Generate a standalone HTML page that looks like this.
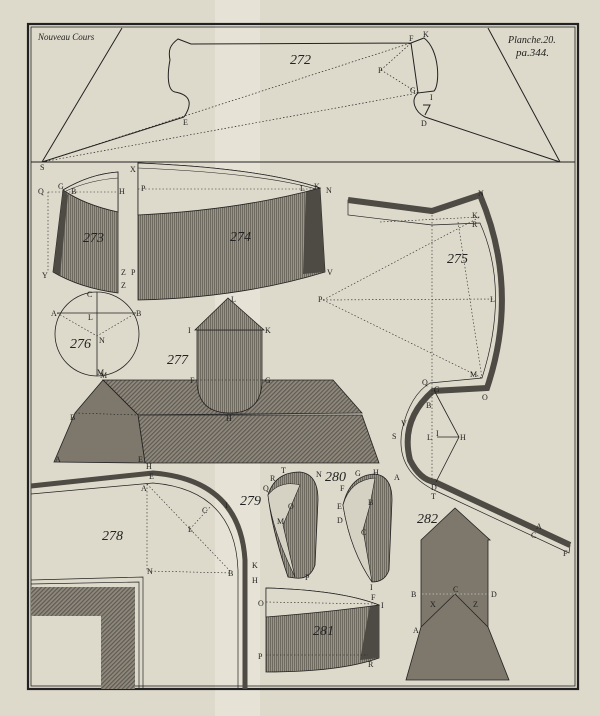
<!DOCTYPE html>
<html><head><meta charset="utf-8"><style>
html,body{margin:0;padding:0;background:#dedacb;}
svg{display:block;}
text{font-family:"Liberation Serif",serif;fill:#222;}
.l{font-size:8px;}
.n{font-size:14px;font-style:italic;}
</style></head><body>
<svg width="600" height="716" viewBox="0 0 600 716" xmlns="http://www.w3.org/2000/svg">
<defs>
<pattern id="vh" width="2" height="4" patternUnits="userSpaceOnUse"><rect width="2" height="4" fill="#9a9488"/><rect width="1" height="4" fill="#6f6a60"/></pattern>
<pattern id="dh" width="3" height="3" patternUnits="userSpaceOnUse" patternTransform="rotate(45)"><rect width="3" height="3" fill="#8f897d"/><rect width="1.2" height="3" fill="#5f5a52"/></pattern>
</defs>
<rect width="600" height="716" fill="#dedacb"/>
<rect x="215" y="0" width="45" height="716" fill="#e6e3d6"/>
<rect x="28" y="24" width="550" height="665" fill="none" stroke="#222" stroke-width="2.2"/>
<rect x="31" y="27" width="544" height="659" fill="none" stroke="#222" stroke-width="0.8"/>

<!-- 272 -->
<g fill="none" stroke="#222" stroke-width="1">
<path d="M42,162 L122,28 M488,28 L560,162 M31,162 L575,162"/>
<path d="M42,162 L184,117 M425,117 L560,162"/>
<path d="M184,117 C192,105 192,95 175,92 C166,90 168,70 170,60 C168,50 170,45 178,39 L191,44 L411,43 L424,38 C440,50 440,85 434,91 L418,93 L411,43"/>
<path d="M418,93 C410,100 415,112 425,117 M423,105 L430,105 L425,115"/>
<path d="M42,162 L411,43 M42,162 L418,93 M381,70 L411,43 M381,70 L418,93" stroke-dasharray="1.5,2" stroke-width="0.7"/>
</g>
<text class="n" x="290" y="64">272</text>
<text x="38" y="40" style="font-size:9px;font-style:italic">Nouveau Cours</text>
<text x="508" y="43" style="font-size:10px;font-style:italic">Planche.20.</text>
<text x="516" y="56" style="font-size:11px;font-style:italic">pa.344.</text>
<text class="l" x="40" y="170">S</text><text class="l" x="183" y="125">E</text><text class="l" x="409" y="41">F</text><text class="l" x="423" y="37">K</text><text class="l" x="378" y="73">P</text><text class="l" x="410" y="93">G</text><text class="l" x="430" y="100">I</text><text class="l" x="421" y="126">D</text>

<!-- 273 -->
<path d="M63,190 Q90,174 118,172 L118,293 Q80,288 53,272 Z" fill="url(#vh)" stroke="#222" stroke-width="0.8"/>
<path d="M63,190 L53,272 L60,275 L68,195 Z" fill="#4e4a44"/>
<path d="M63,190 Q90,174 118,172 L118,212 Q85,205 63,190 Z" fill="#dedacb" stroke="#222" stroke-width="0.8"/>
<path d="M66,191 Q90,180 118,178" fill="none" stroke="#222" stroke-width="0.6"/>
<path d="M48,192 L118,192 M48,192 L48,272" stroke="#222" stroke-dasharray="1.5,2" stroke-width="0.6" fill="none"/>
<text class="n" x="83" y="242">273</text>
<text class="l" x="38" y="194">Q</text><text class="l" x="58" y="189">G</text><text class="l" x="71" y="194">B</text><text class="l" x="119" y="194">H</text><text class="l" x="42" y="278">Y</text><text class="l" x="121" y="275">Z</text><text class="l" x="121" y="288">Z</text>

<!-- 274 -->
<path d="M138,163 Q260,168 320,188 L325,272 Q240,298 138,300 Z" fill="url(#vh)" stroke="#222" stroke-width="0.8"/>
<path d="M306,190 L320,188 L325,272 L303,274 Z" fill="#4e4a44"/>
<path d="M138,163 Q260,168 320,188 Q240,210 138,215 Z" fill="#dedacb" stroke="#222" stroke-width="0.8"/>
<path d="M138,168 Q260,173 316,189" fill="none" stroke="#222" stroke-width="0.6"/>
<path d="M138,189 L316,189" stroke="#222" stroke-dasharray="1.5,2" stroke-width="0.6"/>
<text class="n" x="230" y="241">274</text>
<text class="l" x="130" y="172">X</text><text class="l" x="141" y="191">P</text><text class="l" x="300" y="191">L</text><text class="l" x="314" y="189">K</text><text class="l" x="326" y="193">N</text><text class="l" x="131" y="275">P</text><text class="l" x="327" y="275">V</text>

<!-- 275 band -->
<path d="M348,200 L432,211 L480,195 Q520,290 487,388 L433,391 Q400,420 410,460 Q420,480 435,482 L570,545 L569,553 L434,490 Q395,470 402,430 Q410,395 430,383 L482,378 Q510,290 480,223 L432,225 L348,215 Z" fill="#dedacb" stroke="#222" stroke-width="0.7"/>
<path d="M348,200 L432,211 L480,195 Q520,290 487,388 L433,391 Q400,420 410,460 Q420,480 435,482 L570,545" fill="none" stroke="#4e4a44" stroke-width="6"/>
<path d="M432,215 L432,480 M458,222 L482,378 M323,300 L494,299 M323,300 L480,217 M323,300 L482,378 M380,222 L480,217" stroke="#222" stroke-dasharray="1.5,2" stroke-width="0.6" fill="none"/>
<path d="M434,390 L459,437 L436,482 M437,437 L459,437" fill="none" stroke="#222" stroke-width="0.8"/>
<text class="n" x="447" y="263">275</text>
<text class="l" x="478" y="196">N</text><text class="l" x="472" y="218">K</text><text class="l" x="472" y="227">R</text><text class="l" x="318" y="302">P</text><text class="l" x="490" y="302">L</text><text class="l" x="470" y="377">M</text><text class="l" x="482" y="400">O</text><text class="l" x="422" y="385">Q</text><text class="l" x="434" y="392">G</text><text class="l" x="426" y="408">B</text><text class="l" x="401" y="426">V</text><text class="l" x="392" y="439">S</text><text class="l" x="427" y="440">L</text><text class="l" x="436" y="436">I</text><text class="l" x="460" y="440">H</text><text class="l" x="431" y="490">D</text><text class="l" x="431" y="499">T</text><text class="l" x="536" y="529">A</text><text class="l" x="531" y="538">C</text><text class="l" x="563" y="556">F</text>

<!-- 276 -->
<circle cx="97" cy="334" r="42" fill="none" stroke="#222" stroke-width="0.8"/>
<path d="M97,292 L97,376 M57,313 L136,313" stroke="#222" stroke-width="0.8"/>
<path d="M57,313 L97,336 L136,313" stroke="#222" stroke-dasharray="1.5,2" stroke-width="0.6" fill="none"/>
<text class="n" x="70" y="348">276</text>
<text class="l" x="87" y="297">C</text><text class="l" x="51" y="316">A</text><text class="l" x="88" y="320">L</text><text class="l" x="136" y="316">B</text><text class="l" x="99" y="343">N</text><text class="l" x="97" y="375">M</text>

<!-- 277 -->
<path d="M103,380 L333,380 L362,413 L138,415 Z" fill="url(#dh)" stroke="#222" stroke-width="0.8"/>
<path d="M138,415 L362,415 L379,463 L145,463 Z" fill="url(#dh)" stroke="#222" stroke-width="0.8"/>
<path d="M103,380 L138,415 L145,463 L54,462 L75,413 Z" fill="#7d776c" stroke="#222" stroke-width="0.8"/>
<path d="M75,413 L138,415" stroke="#222" stroke-dasharray="1.5,2" stroke-width="0.6"/>
<path d="M197,330 L262,330 L262,380 Q262,413 230,413 Q197,413 197,380 Z" fill="url(#vh)" stroke="#222" stroke-width="0.8"/>
<path d="M228,298 L264,330 L195,330 Z" fill="url(#vh)" stroke="#222" stroke-width="0.8"/>
<path d="M197,380 L262,380" stroke="#222" stroke-dasharray="1.5,2" stroke-width="0.6"/>
<text class="n" x="167" y="364">277</text>
<text class="l" x="231" y="302">L</text><text class="l" x="188" y="333">I</text><text class="l" x="265" y="333">K</text><text class="l" x="190" y="383">F</text><text class="l" x="265" y="383">G</text><text class="l" x="226" y="421">H</text><text class="l" x="100" y="378">M</text><text class="l" x="70" y="420">B</text><text class="l" x="55" y="462">A</text><text class="l" x="138" y="462">E</text>

<!-- 278 -->
<path d="M31,486 L153,473 Q240,480 245,560 L245,689" fill="none" stroke="#4e4a44" stroke-width="5"/>
<path d="M31,494 L153,483 Q235,490 238,570 L238,689" fill="none" stroke="#222" stroke-width="0.7"/>
<path d="M31,580 L143,577 L143,689 M31,584 L139,582 L139,689" fill="none" stroke="#222" stroke-width="0.7"/>
<path d="M31,587 L135,587 L135,689 L101,689 L101,616 L31,616 Z" fill="url(#dh)"/>
<path d="M147,484 L147,571 L232,573 M147,484 L232,573 M190,529 L210,507" stroke="#222" stroke-dasharray="1.5,2" stroke-width="0.6" fill="none"/>
<text class="n" x="102" y="540">278</text>
<text class="l" x="146" y="469">H</text><text class="l" x="149" y="479">E</text><text class="l" x="141" y="491">A</text><text class="l" x="202" y="513">C</text><text class="l" x="188" y="532">L</text><text class="l" x="225" y="508">I</text><text class="l" x="147" y="574">N</text><text class="l" x="228" y="576">B</text><text class="l" x="252" y="568">K</text><text class="l" x="252" y="583">H</text>

<!-- 279 -->
<path d="M268,495 Q275,472 300,472 Q318,474 318,500 L315,565 Q310,580 295,578 L288,577 Q272,530 268,495 Z" fill="url(#vh)" stroke="#222" stroke-width="0.8"/>
<path d="M268,495 Q280,480 300,485 L283,525 L295,577 Q272,530 268,495 Z" fill="#d6d2c3" stroke="#222" stroke-width="0.6"/>
<text class="n" x="240" y="505">279</text>
<text class="l" x="281" y="473">T</text><text class="l" x="270" y="481">R</text><text class="l" x="263" y="491">Q</text><text class="l" x="316" y="477">N</text><text class="l" x="288" y="509">O</text><text class="l" x="277" y="524">M</text><text class="l" x="305" y="580">P</text>
<!-- 280 -->
<path d="M343,505 Q350,475 375,474 Q392,476 392,500 L389,570 Q385,582 372,582 Q350,550 343,505 Z" fill="url(#vh)" stroke="#222" stroke-width="0.8"/>
<path d="M343,505 Q350,480 375,478 L370,505 L363,530 L372,582 Q350,550 343,505 Z" fill="#d6d2c3" stroke="#222" stroke-width="0.6"/>
<text class="n" x="325" y="481">280</text>
<text class="l" x="355" y="476">G</text><text class="l" x="373" y="475">H</text><text class="l" x="394" y="480">A</text><text class="l" x="340" y="491">F</text><text class="l" x="337" y="509">E</text><text class="l" x="337" y="523">D</text><text class="l" x="368" y="505">B</text><text class="l" x="361" y="535">C</text><text class="l" x="370" y="590">I</text>

<!-- 281 -->
<path d="M266,588 Q340,590 379,605 L379,658 Q340,672 266,672 Z" fill="url(#vh)" stroke="#222" stroke-width="0.8"/>
<path d="M370,605 L379,605 L379,658 L360,660 Z" fill="#4e4a44"/>
<path d="M266,588 Q340,590 379,605 Q330,612 266,617 Z" fill="#dedacb" stroke="#222" stroke-width="0.7"/>
<path d="M266,602 L375,604 M266,655 L368,655" stroke="#222" stroke-dasharray="1.5,2" stroke-width="0.6"/>
<text class="n" x="313" y="635">281</text>
<text class="l" x="258" y="606">O</text><text class="l" x="371" y="600">F</text><text class="l" x="381" y="608">I</text><text class="l" x="258" y="659">P</text><text class="l" x="368" y="667">R</text>

<!-- 282 -->
<path d="M455,508 L490,540 L488,540 L488,627 L509,680 L406,680 L421,627 L421,540 Z" fill="#7d776c" stroke="#222" stroke-width="0.8"/>
<path d="M421,627 L455,594 L488,627" fill="none" stroke="#222" stroke-width="0.8"/>
<path d="M415,594 L493,594" stroke="#eee" stroke-dasharray="1.5,2" stroke-width="0.6"/>
<text class="n" x="417" y="523">282</text>
<text class="l" x="411" y="597">B</text><text class="l" x="453" y="592">C</text><text class="l" x="491" y="597">D</text><text class="l" x="430" y="607">X</text><text class="l" x="473" y="607">Z</text><text class="l" x="413" y="633">A</text>
</svg>
</body></html>
